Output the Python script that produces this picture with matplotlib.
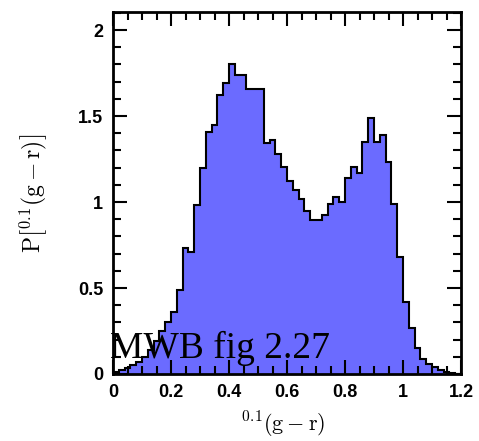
import numpy as np
import matplotlib
matplotlib.use('Agg')
import matplotlib.pyplot as plt
from matplotlib.ticker import MultipleLocator

# bin edges of the colour histogram (width 0.02)
bin_edges = np.linspace(0.0, 1.2, 61)

# probability density per bin
density = [0.013, 0.025, 0.035, 0.052, 0.070, 0.100, 0.140, 0.190, 0.250, 0.300,
           0.360, 0.490, 0.730, 0.710, 0.980, 1.200, 1.410, 1.450, 1.620, 1.690,
           1.800, 1.740, 1.740, 1.655, 1.655, 1.655, 1.345, 1.360, 1.280, 1.205,
           1.120, 1.070, 1.020, 0.950, 0.895, 0.895, 0.925, 0.990, 1.030, 1.000,
           1.140, 1.205, 1.170, 1.350, 1.487, 1.350, 1.390, 1.235, 0.990, 0.680,
           0.420, 0.265, 0.150, 0.090, 0.056, 0.039, 0.023, 0.013, 0.005, 0.002]

x_ticks = [0, 0.2, 0.4, 0.6, 0.8, 1.0, 1.2]
x_tick_labels = ['0', '0.2', '0.4', '0.6', '0.8', '1', '1.2']
y_ticks = [0, 0.5, 1.0, 1.5, 2.0]
y_tick_labels = ['0', '0.5', '1', '1.5', '2']

plt.rcParams['mathtext.fontset'] = 'cm'

fig = plt.figure(figsize=(4.79, 4.41), dpi=100)
ax = fig.add_axes([113 / 479, 1 - 374 / 441, 348 / 479, 362 / 441])

ax.stairs(density, bin_edges, fill=True, facecolor='#6b6bff', edgecolor='none')
ax.stairs(density, bin_edges, color='black', linewidth=1.5)

ax.set_xlim(0, 1.2)
ax.set_ylim(0, 2.105)

ax.set_xticks(x_ticks)
ax.set_xticklabels(x_tick_labels)
ax.set_yticks(y_ticks)
ax.set_yticklabels(y_tick_labels)
ax.xaxis.set_minor_locator(MultipleLocator(0.05))
ax.yaxis.set_minor_locator(MultipleLocator(0.1))

ax.tick_params(which='both', direction='in', top=True, right=True, width=1.5, color='black')
ax.tick_params(which='major', length=10, pad=7)
ax.tick_params(which='minor', length=5.5)
for lab in ax.get_xticklabels() + ax.get_yticklabels():
    lab.set_fontfamily('Liberation Sans')
    lab.set_fontweight('bold')
    lab.set_fontsize(13)

for sp in ax.spines.values():
    sp.set_linewidth(2)

ax.set_xlabel(r'$^{0.1}(\mathrm{g}-\mathrm{r})$', fontsize=16, va='center')
ax.xaxis.set_label_coords(0.49, -0.141)
ax.set_ylabel(r'$\mathrm{P}\left[{}^{0.1}(\mathrm{g}-\mathrm{r})\right]$', fontsize=17)
ax.yaxis.set_label_coords(-0.185, 0.5)

fig.text(110 / 479, 1 - 358 / 441, 'MWB fig 2.27', family='Liberation Serif',
         fontsize=27, va='baseline', ha='left', color='black')

fig.savefig('out.png', dpi=100)
